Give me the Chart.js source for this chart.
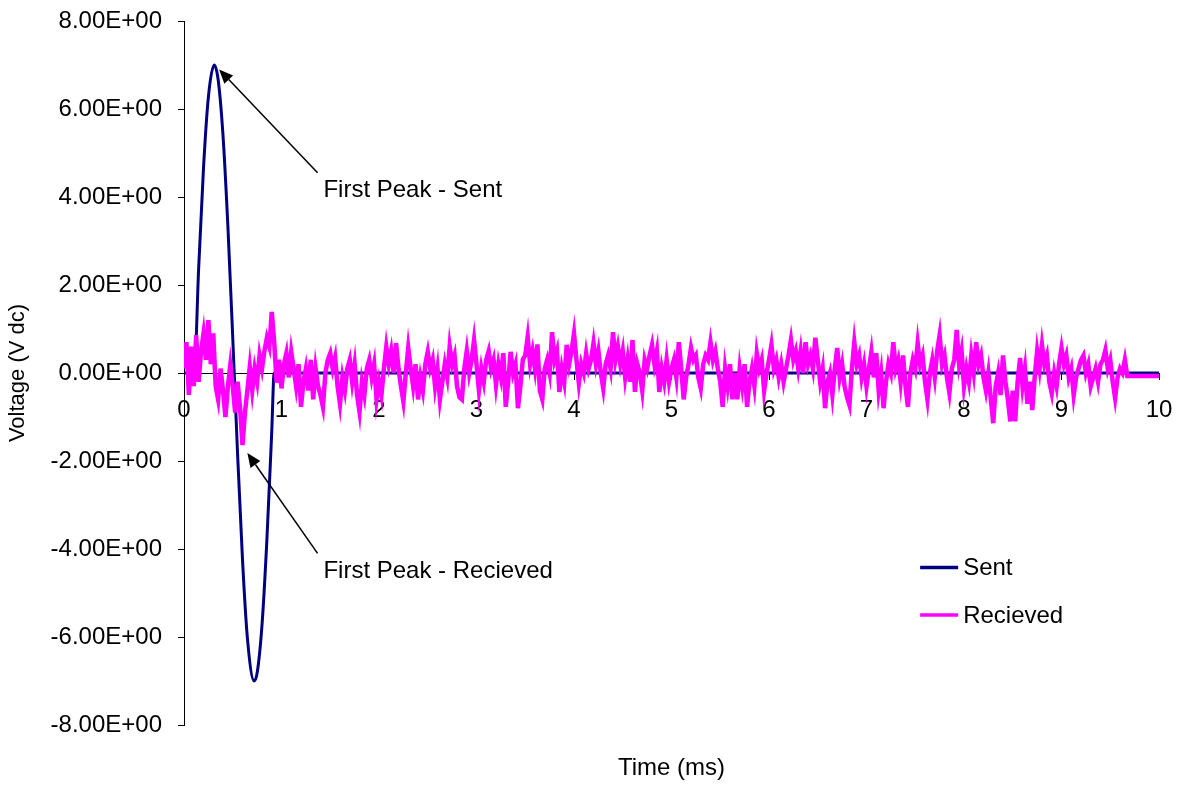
<!DOCTYPE html>
<html>
<head>
<meta charset="utf-8">
<title>Sent vs Recieved</title>
<script src="https://cdn.jsdelivr.net/npm/chart.js@4.4.1/dist/chart.umd.min.js"></script>
<style>
    html, body { margin: 0; padding: 0; background: #fff; }
    #wrap { position: relative; width: 1182px; height: 785px; }
</style>
</head>
<body>
<div id="wrap"><canvas id="signalChart"></canvas></div>
<script>
// sent pulse: one sine cycle (ms, volts)
const SENT_TIME = [0, 0.105, 0.15, 0.2, 0.25, 0.31, 0.35, 0.4, 0.45, 0.5, 0.55, 0.6, 0.65, 0.72, 0.75, 0.8, 0.85, 0.9, 0.925, 10];
const SENT_VOLTS = [0, 0, 2.37, 4.66, 6.27, 7.0, 6.67, 5.4, 3.34, 0.8, -1.86, -4.24, -6.02, -7.0, -6.82, -5.73, -3.8, -1.33, 0, 0];

// recieved trace, sampled every 0.025 ms from 0 ms (one row = 0.5 ms)
const RECV_STEP_MS = 0.025;
const RECV_VOLTS = [
    0.1, 0.7, -0.5, 0.6, -0.3, 0.86, -0.2, 0.5, 0.9, 0.3, 1.2, 0.2, 0.9, -0.3, -0.6, 0.1, -0.4, -1.0, -0.3, 0.18,
    -0.3, -0.9, -0.2, -0.8, -1.64, -0.9, -0.4, 0.14, -0.4, 0.1, -0.2, 0.4, 0.1, 0.5, 0.8, 0.6, 1.39, 0.7, -0.22, 0.3,
    -0.35, 0.2, 0.45, -0.1, 0.48, 0.1, -0.3, 0.2, -0.77, -0.2, 0.1, -0.4, 0.3, -0.6, 0.1, -0.3, -0.5, -0.77, 0.0, 0.3,
    0.45, 0.1, 0.35, -0.3, -0.7, -0.1, -0.4, 0.1, 0.3, -0.2, 0.2, -0.5, -0.88, -0.2, -0.5, 0.1, 0.3, -0.1, 0.2, -0.6,
    -0.2, -0.5, 0.1, 0.6, 0.2, 0.5, 0.0, 0.68, 0.1, -0.3, -0.65, 0.0, 0.57, 0.1, -0.3, 0.2, -0.6, -0.1, -0.4, 0.2,
    0.48, 0.1, 0.3, -0.3, 0.1, -0.6, -0.2, 0.2, -0.1, 0.6, 0.2, 0.4, -0.3, -0.55, -0.6, 0.1, 0.5, 0.0, 0.3, 0.75,
    0.2, -0.4, 0.1, -0.2, 0.3, 0.5, 0.1, 0.3, -0.27, 0.2, -0.1, 0.45, -0.77, -0.2, 0.48, 0.0, 0.2, -0.8, -0.3, 0.3,
    0.4, 0.82, 0.2, 0.5, 0.1, 0.65, -0.4, -0.6, 0.1, 0.3, 0.0, 0.93, 0.3, 0.5, -0.43, 0.1, -0.2, 0.64, 0.2, 0.5,
    0.9, 0.3, -0.23, 0.2, 0.0, 0.45, 0.1, 0.3, 0.68, 0.2, 0.5, 0.0, -0.35, 0.2, 0.4, 0.1, 0.93, 0.3, 0.6, 0.2,
    0.5, -0.1, 0.3, -0.2, 0.75, -0.43, 0.2, 0.0, -0.4, 0.3, 0.1, 0.4, 0.64, 0.2, 0.5, -0.43, 0.1, -0.2, 0.3, -0.2,
    0.1, 0.3, -0.1, 0.7, 0.1, -0.6, -0.1, 0.2, 0.57, 0.3, 0.4, -0.1, -0.35, 0.2, 0.4, 0.3, 0.7, 0.3, 0.5, 0.1,
    -0.2, -0.77, 0.1, -0.3, 0.2, -0.6, 0.0, -0.6, 0.1, -0.3, 0.2, -0.77, -0.2, 0.1, -0.3, 0.45, 0.1, 0.3, -0.4, 0.0,
    0.3, 0.64, 0.1, 0.3, -0.1, 0.2, -0.2, 0.1, 0.4, 0.75, 0.3, 0.5, 0.1, 0.5, 0.0, 0.7, 0.2, 0.4, 0.1, 0.8,
    0.3, -0.2, 0.1, -0.8, -0.2, 0.0, -0.5, 0.1, 0.57, -0.1, 0.2, -0.3, -0.55, -0.73, 0.1, 0.7, 0.2, 0.4, -0.1, 0.2,
    -0.3, 0.1, 0.48, -0.1, 0.45, -0.4, 0.0, -0.8, -0.2, 0.2, 0.0, 0.7, 0.1, 0.3, -0.2, 0.4, -0.3, -0.77, 0.0, 0.3,
    0.1, 0.68, 0.2, 0.4, -0.2, -0.6, 0.0, 0.3, -0.1, 0.5, 0.86, 0.2, 0.4, -0.1, -0.45, 0.1, 0.3, 0.98, 0.2, 0.5,
    -0.3, 0.1, -0.2, 0.4, 0.0, 0.7, 0.2, 0.4, -0.1, -0.4, 0.0, -0.6, -1.14, -0.3, 0.0, -0.5, 0.4, -0.2, -0.6, -1.1,
    -0.4, -1.1, -0.2, 0.34, -0.3, 0.1, -0.7, -0.2, -0.84, -0.1, 0.5, 0.1, 0.64, 0.2, 0.4, -0.2, -0.46, 0.0, -0.3, 0.2,
    0.57, 0.2, 0.4, -0.1, 0.1, -0.5, -0.1, 0.1, 0.3, 0.4, 0.0, 0.2, -0.3, -0.1, 0.1, -0.2, 0.2, 0.3, 0.52, 0.1,
    0.3, -0.2, -0.57, -0.1, 0.1, 0.0, 0.3, -0.07
];
// flat tail after the trace stops
const RECV_TAIL_TIME = [10];
const RECV_TAIL_VOLTS = [-0.07];

const X_TICKS = [0, 1, 2, 3, 4, 5, 6, 7, 8, 9, 10];
const Y_TICKS = [-8, -6, -4, -2, 0, 2, 4, 6, 8];

const FONT = '"Liberation Sans", Arial, sans-serif';
const SENT_COLOR = '#000080';
const RECV_COLOR = '#FF00FF';

const sentPoints = SENT_TIME.map((t, i) => ({ x: t, y: SENT_VOLTS[i] }));
const recvPoints = RECV_VOLTS.map((v, i) => ({ x: +(i * RECV_STEP_MS).toFixed(3), y: v }))
    .concat(RECV_TAIL_TIME.map((t, i) => ({ x: t, y: RECV_TAIL_VOLTS[i] })));

// excel style scientific labels, e.g. 8.00E+00
const sciLabel = (v) => {
    if (v === 0) return '0.00E+00';
    const e = Math.floor(Math.log10(Math.abs(v)));
    const m = v / Math.pow(10, e);
    return m.toFixed(2) + 'E' + (e < 0 ? '-' : '+') + String(Math.abs(e)).padStart(2, '0');
};

// label overflow is covered by layout padding instead
const noLabelPadding = (scale) => {
    scale.paddingTop = 0;
    scale.paddingBottom = 0;
    scale.paddingLeft = 0;
    scale.paddingRight = 0;
};

// callouts anchored in data units (ms, volts)
const CALLOUTS = [
    { text: 'First Peak - Sent', tip: [0.36, 6.9], tail: [1.37, 4.55], label: [1.43, 4.16] },
    { text: 'First Peak - Recieved', tip: [0.65, -1.82], tail: [1.37, -4.1], label: [1.43, -4.5] },
];

const extrasPlugin = {
    id: 'extras',
    afterDraw(chart) {
        const { ctx, scales: { x, y } } = chart;
        ctx.save();
        ctx.font = '24px ' + FONT;
        ctx.fillStyle = '#000';
        ctx.strokeStyle = '#000';

        CALLOUTS.forEach((c) => {
            const tx = x.getPixelForValue(c.tip[0]), ty = y.getPixelForValue(c.tip[1]);
            const sx = x.getPixelForValue(c.tail[0]), sy = y.getPixelForValue(c.tail[1]);
            const ang = Math.atan2(ty - sy, tx - sx);
            const len = 14, half = 6;
            const bx = tx - len * Math.cos(ang), by = ty - len * Math.sin(ang);
            ctx.lineWidth = 1.5;
            ctx.beginPath();
            ctx.moveTo(sx, sy);
            ctx.lineTo(bx, by);
            ctx.stroke();
            ctx.beginPath();
            ctx.moveTo(tx, ty);
            ctx.lineTo(bx + half * Math.sin(ang), by - half * Math.cos(ang));
            ctx.lineTo(bx - half * Math.sin(ang), by + half * Math.cos(ang));
            ctx.closePath();
            ctx.fill();
            ctx.textAlign = 'left';
            ctx.textBaseline = 'middle';
            ctx.fillText(c.text, x.getPixelForValue(c.label[0]), y.getPixelForValue(c.label[1]));
        });

        // legend, lower right
        const lx = x.getPixelForValue(7.55);
        const rows = [
            { label: chart.data.datasets[0].label, color: SENT_COLOR, vy: -4.42 },
            { label: chart.data.datasets[1].label, color: RECV_COLOR, vy: -5.5 },
        ];
        rows.forEach((r) => {
            const py = y.getPixelForValue(r.vy);
            ctx.strokeStyle = r.color;
            ctx.lineWidth = 3.5;
            ctx.beginPath();
            ctx.moveTo(lx, py);
            ctx.lineTo(lx + 38, py);
            ctx.stroke();
            ctx.fillStyle = '#000';
            ctx.textAlign = 'left';
            ctx.textBaseline = 'middle';
            ctx.fillText(r.label, lx + 43, py + 1);
        });

        // x axis title sits at the bottom, not on the zero line
        ctx.textAlign = 'center';
        ctx.textBaseline = 'middle';
        ctx.fillText('Time (ms)', (chart.chartArea.left + chart.chartArea.right) / 2, 768);
        ctx.restore();
    },
};

new Chart(document.getElementById('signalChart'), {
    type: 'line',
    data: {
        datasets: [
            {
                label: 'Sent',
                data: sentPoints,
                borderColor: SENT_COLOR,
                backgroundColor: SENT_COLOR,
                borderWidth: 3,
                pointRadius: 0,
                cubicInterpolationMode: 'monotone',
                order: 2,
            },
            {
                label: 'Recieved',
                data: recvPoints,
                borderColor: RECV_COLOR,
                backgroundColor: RECV_COLOR,
                borderWidth: 4.5,
                pointRadius: 0,
                tension: 0,
                order: 1,
            },
        ],
    },
    options: {
        responsive: true,
        maintainAspectRatio: false,
        animation: false,
        layout: { padding: { left: 0, top: 21, right: 23, bottom: 60 } },
        plugins: {
            legend: { display: false },
            tooltip: { enabled: false },
        },
        scales: {
            x: {
                type: 'linear',
                position: { y: 0 },
                min: 0,
                max: 10,
                afterBuildTicks: (scale) => { scale.ticks = X_TICKS.map((v) => ({ value: v })); },
                afterFit: noLabelPadding,
                grid: { drawOnChartArea: false, drawTicks: true, tickLength: 6, color: '#000' },
                border: { color: '#000', width: 1 },
                ticks: {
                    color: '#000',
                    font: { family: FONT, size: 24 },
                    padding: 17,
                    maxRotation: 0,
                    autoSkip: false,
                },
            },
            y: {
                type: 'linear',
                min: -8,
                max: 8,
                afterBuildTicks: (scale) => { scale.ticks = Y_TICKS.map((v) => ({ value: v })); },
                afterFit: (scale) => {
                    noLabelPadding(scale);
                    scale.width = 184;
                },
                grid: { drawOnChartArea: false, drawTicks: true, tickLength: 6, color: '#000' },
                border: { color: '#000', width: 1 },
                ticks: {
                    color: '#000',
                    font: { family: FONT, size: 24 },
                    padding: 16,
                    callback: (v) => sciLabel(v),
                },
                title: {
                    display: true,
                    text: 'Voltage (V dc)',
                    color: '#000',
                    font: { family: FONT, size: 22 },
                    padding: { top: 5, bottom: 0 },
                },
            },
        },
    },
    plugins: [extrasPlugin],
});
</script>
</body>
</html>
